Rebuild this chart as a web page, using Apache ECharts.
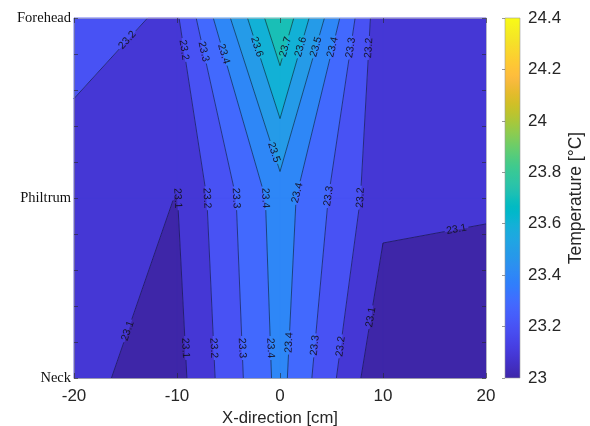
<!DOCTYPE html>
<html><head><meta charset="utf-8">
<script src="https://cdn.jsdelivr.net/npm/echarts/dist/echarts.min.js"></script>
<style>html,body{margin:0;padding:0;background:#fff}#c{width:590px;height:426px}</style>
</head><body><div id="c"></div>
<script>
// ---------------- data ----------------
const xPositions = [-20, -10, 0, 10, 20];            // cm
const rowNames = ['Neck', 'Philtrum', 'Forehead'];   // rows at y = 1, 2, 3
const neckTemps     = [23.12, 23.065, 23.43, 23.01, 23.005];
const philtrumTemps = [23.163, 23.098, 23.45, 23.13, 23.116];
const foreheadTemps = [23.23, 23.188, 23.79, 23.118, 23.15];
const contourLevels = [23.1, 23.2, 23.3, 23.4, 23.5, 23.6, 23.7];
const xTicks = [-20, -10, 0, 10, 20];
const colorbarTicks = [23, 23.2, 23.4, 23.6, 23.8, 24, 24.2, 24.4];

// ---------------- style ----------------
const SANS = 'Liberation Sans, Arial, Helvetica, sans-serif';
const SERIF = 'Liberation Serif, Times New Roman, serif';
const TXT = '#262626';
const PARULA = [[0.2422,0.1504,0.6603],[0.2504,0.165,0.7076],[0.2578,0.1818,0.7511],[0.2647,0.1978,0.7952],[0.2706,0.2147,0.8364],[0.2751,0.2342,0.871],[0.2783,0.2559,0.8991],[0.2803,0.2782,0.9221],[0.2813,0.3006,0.9414],[0.281,0.3228,0.9579],[0.2795,0.3447,0.9717],[0.276,0.3667,0.9829],[0.2699,0.3892,0.9906],[0.2602,0.4123,0.9952],[0.244,0.4358,0.9988],[0.2206,0.4603,0.9973],[0.1963,0.4847,0.9892],[0.1834,0.5074,0.9798],[0.1786,0.5289,0.9682],[0.1764,0.5499,0.952],[0.1687,0.5703,0.9359],[0.154,0.5902,0.9218],[0.146,0.6091,0.9079],[0.138,0.6276,0.8973],[0.1248,0.6459,0.8883],[0.1113,0.6635,0.8763],[0.0952,0.6798,0.8598],[0.0689,0.6948,0.8394],[0.0297,0.7082,0.8163],[0.0036,0.7203,0.7917],[0.0067,0.7312,0.766],[0.0433,0.7411,0.7394],[0.0964,0.75,0.712],[0.1408,0.7584,0.6842],[0.1717,0.767,0.6554],[0.1938,0.7758,0.6251],[0.2161,0.7843,0.5923],[0.247,0.7918,0.5567],[0.2906,0.7973,0.5188],[0.3406,0.8008,0.4789],[0.3909,0.8029,0.4354],[0.4456,0.8024,0.3909],[0.5044,0.7993,0.348],[0.5616,0.7942,0.3045],[0.6174,0.7876,0.2612],[0.672,0.7793,0.2227],[0.7242,0.7698,0.191],[0.7738,0.7598,0.1646],[0.8203,0.7498,0.1535],[0.8634,0.7406,0.1596],[0.9035,0.733,0.1774],[0.9393,0.7288,0.21],[0.9728,0.7298,0.2394],[0.9956,0.7434,0.2371],[0.997,0.7659,0.2199],[0.9952,0.7893,0.2028],[0.9892,0.8136,0.1885],[0.9786,0.8386,0.1766],[0.9676,0.8639,0.1643],[0.961,0.889,0.1537],[0.9597,0.9135,0.1423],[0.9628,0.9373,0.1265],[0.9691,0.9606,0.1064],[0.9769,0.9839,0.0805]];
const cMin = colorbarTicks[0], cMax = colorbarTicks[colorbarTicks.length - 1];
function rgb(c){return 'rgb('+c.map(v=>Math.round(v*255)).join(',')+')';}
function parulaAt(v){
  const t=(v-cMin)/(cMax-cMin);
  const idx=Math.min(63,Math.max(0,Math.floor(t*64+1e-9)));
  return rgb(PARULA[idx]);
}

// ---------------- geometry helpers ----------------
const grid = [neckTemps, philtrumTemps, foreheadTemps];
const nRows = grid.length, nCols = xPositions.length;
const bandLows = [cMin].concat(contourLevels);

function bandPolygon(corners, lo, hi){
  const pts=[];
  for(let k=0;k<4;k++){
    const a=corners[k], b=corners[(k+1)%4];
    if(a.z>=lo && a.z<hi) pts.push([a.x,a.y]);
    const ts=[];
    [lo,hi].forEach(L=>{
      if(isFinite(L) && (a.z-L)*(b.z-L)<0) ts.push((L-a.z)/(b.z-a.z));
    });
    ts.sort((p,q)=>p-q).forEach(t=>pts.push([a.x+t*(b.x-a.x), a.y+t*(b.y-a.y)]));
  }
  return pts;
}

function crossing(i1,j1,i2,j2,L,key){
  const z1=grid[i1][j1], z2=grid[i2][j2];
  if((z1-L)*(z2-L)>=0) return null;
  const t=(L-z1)/(z2-z1);
  return {key, x:xPositions[j1]+t*(xPositions[j2]-xPositions[j1]), y:(i1+1)+t*(i2-i1)};
}

function levelSegments(L){
  const segs=[];
  for(let i=0;i<nRows-1;i++) for(let j=0;j<nCols-1;j++){
    const cs=[
      crossing(i,j,i,j+1,L,'h'+i+'_'+j),
      crossing(i,j+1,i+1,j+1,L,'v'+i+'_'+(j+1)),
      crossing(i+1,j,i+1,j+1,L,'h'+(i+1)+'_'+j),
      crossing(i,j,i+1,j,L,'v'+i+'_'+j)
    ].filter(Boolean);
    const corners=[[i,j],[i,j+1],[i+1,j+1],[i+1,j]];
    const pairs = cs.length===2 ? [[cs[0],cs[1]]] : (cs.length===4 ? [[cs[0],cs[1]],[cs[2],cs[3]]] : []);
    pairs.forEach(([a,b])=>{
      const hc=corners.find(([ci,cj])=>grid[ci][cj]>L);
      const hx=xPositions[hc[1]], hy=hc[0]+1;
      const cr=(b.x-a.x)*(hy-a.y)-(b.y-a.y)*(hx-a.x);
      segs.push(cr<0?{a,b}:{a:b,b:a});
    });
  }
  return segs;
}

function buildPaths(segs){
  const byStart=new Map(); segs.forEach(s=>byStart.set(s.a.key,s));
  const ends=new Set(segs.map(s=>s.b.key));
  const used=new Set(), paths=[];
  const walk=s0=>{const pts=[s0.a];let s=s0;while(s&&!used.has(s)){used.add(s);pts.push(s.b);s=byStart.get(s.b.key);}return pts;};
  segs.forEach(s=>{if(!ends.has(s.a.key)&&!used.has(s))paths.push(walk(s));});
  segs.forEach(s=>{if(!used.has(s))paths.push(walk(s));});
  return paths;
}

const LABEL_START=30, LABEL_SPACING=150, LABEL_FONT=10.5, GAP_HALF=12;

function subPath(px,cum,a,b){
  const out=[];
  const at=s=>{let k=0;while(k<cum.length-2&&cum[k+1]<s)k++;const seg=cum[k+1]-cum[k]||1;const t=(s-cum[k])/seg;return [px[k][0]+t*(px[k+1][0]-px[k][0]),px[k][1]+t*(px[k+1][1]-px[k][1])];};
  out.push(at(a));
  for(let k=1;k<px.length-1;k++) if(cum[k]>a&&cum[k]<b) out.push(px[k]);
  out.push(at(b));
  return out;
}

// ---------------- series data ----------------
const cellData=[];
for(let i=0;i<nRows-1;i++) for(let j=0;j<nCols-1;j++)
  cellData.push([(xPositions[j]+xPositions[j+1])/2, i+1.5, j, i]);

function renderCell(params, api){
  const j=api.value(2), i=api.value(3);
  const corners=[
    {x:xPositions[j],y:i+1,z:grid[i][j]},
    {x:xPositions[j+1],y:i+1,z:grid[i][j+1]},
    {x:xPositions[j+1],y:i+2,z:grid[i+1][j+1]},
    {x:xPositions[j],y:i+2,z:grid[i+1][j]}
  ];
  const children=[];
  for(let k=0;k<bandLows.length;k++){
    const lo=k===0?-Infinity:bandLows[k];
    const hi=k<contourLevels.length?contourLevels[k]:Infinity;
    const poly=bandPolygon(corners,lo,hi);
    if(poly.length>=3){
      const c=parulaAt(bandLows[k]);
      children.push({type:'polygon',shape:{points:poly.map(p=>api.coord(p))},style:{fill:c,stroke:c,lineWidth:0.8}});
    }
  }
  return {type:'group',children};
}

function renderContours(params, api){
  const children=[];
  contourLevels.forEach(L=>{
    buildPaths(levelSegments(L)).forEach(path=>{
      const px=path.map(p=>api.coord([p.x,p.y]));
      const cum=[0];
      for(let k=1;k<px.length;k++) cum.push(cum[k-1]+Math.hypot(px[k][0]-px[k-1][0],px[k][1]-px[k-1][1]));
      const len=cum[cum.length-1];
      const pos=[];
      for(let s=LABEL_START;s<=len-12;s+=LABEL_SPACING) pos.push(s);
      let cur=0; const pieces=[];
      pos.forEach(s=>{if(s-GAP_HALF>cur)pieces.push([cur,s-GAP_HALF]);cur=Math.max(cur,s+GAP_HALF);});
      if(cur<len) pieces.push([cur,len]);
      pieces.forEach(([a,b])=>children.push({type:'polyline',shape:{points:subPath(px,cum,a,b)},style:{stroke:'rgba(10,10,30,0.85)',lineWidth:0.65,fill:null}}));
      pos.forEach(s=>{
        let k=0;while(k<cum.length-2&&cum[k+1]<s)k++;
        const t=(s-cum[k])/((cum[k+1]-cum[k])||1);
        const x=px[k][0]+t*(px[k+1][0]-px[k][0]), y=px[k][1]+t*(px[k+1][1]-px[k][1]);
        let dx=px[k+1][0]-px[k][0], dy=px[k+1][1]-px[k][1];
        if(dx<0||(Math.abs(dx)<1e-9&&dy<0)){dx=-dx;dy=-dy;}
        const ang=Math.atan2(dy,dx);
        children.push({type:'text',x,y,rotation:-ang,style:{text:L.toFixed(1),fontSize:LABEL_FONT,fontFamily:SANS,fill:'#15152a',align:'center',verticalAlign:'middle',textAlign:'center',textVerticalAlign:'middle'}});
      });
    });
  });
  return {type:'group',children};
}

function renderColorbar(params, api){
  const p1=api.coord([0,cMax]), p2=api.coord([1,cMin]);
  const stops=PARULA.map((c,k)=>({offset:k/(PARULA.length-1),color:rgb(c)}));
  return {type:'rect',shape:{x:p1[0],y:p1[1],width:p2[0]-p1[0],height:p2[1]-p1[1]},
    style:{fill:new echarts.graphic.LinearGradient(0,1,0,0,stops),stroke:'#9a9a9a',lineWidth:0.6}};
}

const tickStyle={color:TXT,width:0.6};
const option={
  animation:false,
  backgroundColor:'#fff',
  grid:[{left:74,right:104,top:18,bottom:48,outerBoundsMode:'none',containLabel:false},
        {left:505,width:15,top:18,bottom:48,outerBoundsMode:'none',containLabel:false}],
  xAxis:[
    {gridIndex:0,type:'value',min:xTicks[0],max:xTicks[xTicks.length-1],interval:xTicks[1]-xTicks[0],position:'bottom',z:10,
     axisLine:{show:true,onZero:false,lineStyle:{color:'#8a8a8a',width:0.6}},
     axisTick:{show:true,inside:true,length:5,lineStyle:tickStyle},
     axisLabel:{fontSize:17,color:TXT,fontFamily:SANS,margin:10},
     splitLine:{show:false},
     name:'X-direction [cm]',nameLocation:'middle',nameGap:30,nameTextStyle:{fontSize:16.7,color:TXT,fontFamily:SANS}},
    {gridIndex:0,type:'value',min:xTicks[0],max:xTicks[xTicks.length-1],interval:xTicks[1]-xTicks[0],position:'top',z:10,
     axisLine:{show:true,onZero:false,lineStyle:{color:'#bbbbbb',width:0.6}},
     axisTick:{show:true,inside:true,length:5,lineStyle:tickStyle},axisLabel:{show:false},splitLine:{show:false}},
    {gridIndex:1,type:'value',min:0,max:1,show:false}
  ],
  yAxis:[
    {gridIndex:0,type:'value',min:1,max:3,interval:0.2,position:'left',z:10,
     axisLine:{show:true,onZero:false,lineStyle:{color:'#8a8a8a',width:0.6}},
     axisTick:{show:true,inside:true,length:4,lineStyle:tickStyle},
     axisLabel:{fontSize:14.5,color:'#111',fontFamily:SERIF,margin:3,
       formatter:v=>{const r=Math.round(v);return Math.abs(v-r)<1e-6?rowNames[r-1]:'';}},
     splitLine:{show:false}},
    {gridIndex:0,type:'value',min:1,max:3,interval:0.2,position:'right',z:10,
     axisLine:{show:true,onZero:false,lineStyle:{color:'#bbbbbb',width:0.6}},
     axisTick:{show:true,inside:true,length:4,lineStyle:tickStyle},axisLabel:{show:false},splitLine:{show:false}},
    {gridIndex:1,type:'value',min:cMin,max:cMax,interval:0.2,position:'right',z:10,
     axisLine:{show:false},
     axisTick:{show:true,inside:true,length:3,lineStyle:{color:'#555',width:0.6}},
     axisLabel:{fontSize:17,color:TXT,fontFamily:SANS,margin:8},
     splitLine:{show:false},
     name:'Temperature [°C]',nameLocation:'middle',nameRotate:90,nameGap:47,
     nameTextStyle:{fontSize:17.5,color:TXT,fontFamily:SANS}}
  ],
  series:[
    {type:'custom',name:'fill',xAxisIndex:0,yAxisIndex:0,data:cellData,encode:{x:0,y:1},renderItem:renderCell,silent:true,z:1},
    {type:'custom',name:'contours',xAxisIndex:0,yAxisIndex:0,data:[[0,2]],encode:{x:0,y:1},renderItem:renderContours,silent:true,z:3},
    {type:'custom',name:'colorbar',xAxisIndex:2,yAxisIndex:2,data:[[0.5,23.7]],encode:{x:0,y:1},renderItem:renderColorbar,silent:true,z:1}
  ]
};
const chart=echarts.init(document.getElementById('c'),null,{renderer:'canvas'});
chart.setOption(option);
</script></body></html>
